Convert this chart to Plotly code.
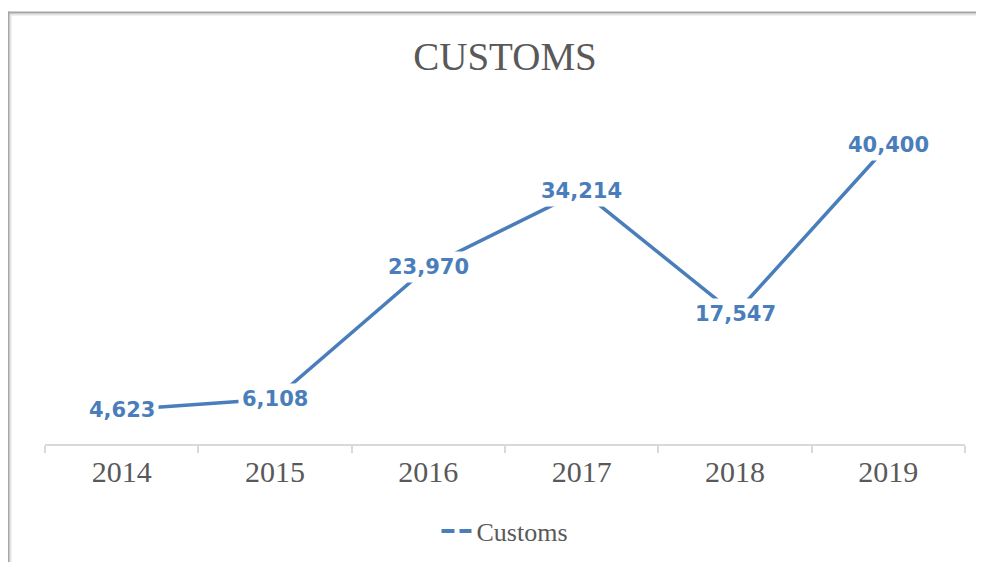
import plotly.graph_objects as go

years = ["2014", "2015", "2016", "2017", "2018", "2019"]
customs = [4623, 6108, 23970, 34214, 17547, 40400]
series_name = "Customs"
title_text = "CUSTOMS"

BLUE = "#4A7EBB"
GRAY_TEXT = "#595959"

# the page body has an 8px margin; shift layout so pixel positions match
OFF = 8

fig = go.Figure()
fig.add_trace(go.Scatter(x=years, y=customs, mode="lines",
                         line=dict(color=BLUE, width=3.5),
                         showlegend=False, hoverinfo="skip"))
# legend entry (dashed sample like the reference)
fig.add_trace(go.Scatter(x=[None], y=[None], mode="lines", name=series_name,
                         line=dict(color=BLUE, width=4, dash="13px,5px"),
                         showlegend=True))

for i, v in enumerate(customs):
    fig.add_annotation(x=i, y=v, xref="x", yref="y", text=f"{v:,}",
                       showarrow=False, bgcolor="white", borderpad=3,
                       font=dict(family="DejaVu Sans", size=21, color=BLUE,
                                 weight="bold"))

L, R, T, B = 45 - OFF, 19 + OFF, 74 - OFF, 118 + OFF
W, H = 984, 562
pw, ph = W - L - R, H - T - B

def px_x(p):
    return (p - OFF - L) / pw

def px_y(p):
    return (H - B - (p - OFF)) / ph

# chart frame (top and left edges visible in reference)
fig.add_shape(type="line", xref="paper", yref="paper",
              x0=px_x(8), x1=px_x(1000), y0=px_y(14.5), y1=px_y(14.5),
              line=dict(color="#E3E3E3", width=2))
fig.add_shape(type="line", xref="paper", yref="paper",
              x0=px_x(10.5), x1=px_x(10.5), y0=px_y(13), y1=px_y(600),
              line=dict(color="#E3E3E3", width=2))
fig.add_shape(type="line", xref="paper", yref="paper",
              x0=px_x(7), x1=px_x(1000), y0=px_y(12.5), y1=px_y(12.5),
              line=dict(color="#A6A6A6", width=2))
fig.add_shape(type="line", xref="paper", yref="paper",
              x0=px_x(8.5), x1=px_x(8.5), y0=px_y(11.5), y1=px_y(600),
              line=dict(color="#A6A6A6", width=2))

fig.update_layout(
    width=W, height=H,
    margin=dict(l=L, r=R, t=T, b=B),
    paper_bgcolor="white", plot_bgcolor="white",
    title=dict(text=title_text, x=0.5, xref="paper", xanchor="center",
               y=1 - (56 - OFF) / H, yref="container", yanchor="middle",
               font=dict(family="Liberation Serif", size=39, color=GRAY_TEXT)),
    xaxis=dict(type="category", range=[-0.5, 5.5], showgrid=False,
               showline=True, linecolor="#D9D9D9", linewidth=2,
               ticks="outside", tickson="boundaries", ticklen=7,
               tickwidth=2, tickcolor="#D9D9D9",
               tickfont=dict(family="Liberation Serif", size=30, color=GRAY_TEXT),
               zeroline=False),
    yaxis=dict(range=[0, 50000], visible=False, showgrid=False, zeroline=False),
    legend=dict(orientation="h", x=0.5, xref="paper", xanchor="center",
                y=1 - (531 - OFF) / H, yref="container", yanchor="middle",
                font=dict(family="Liberation Serif", size=26, color=GRAY_TEXT),
                itemwidth=30),
    showlegend=True,
)

fig.write_html("out.html")
